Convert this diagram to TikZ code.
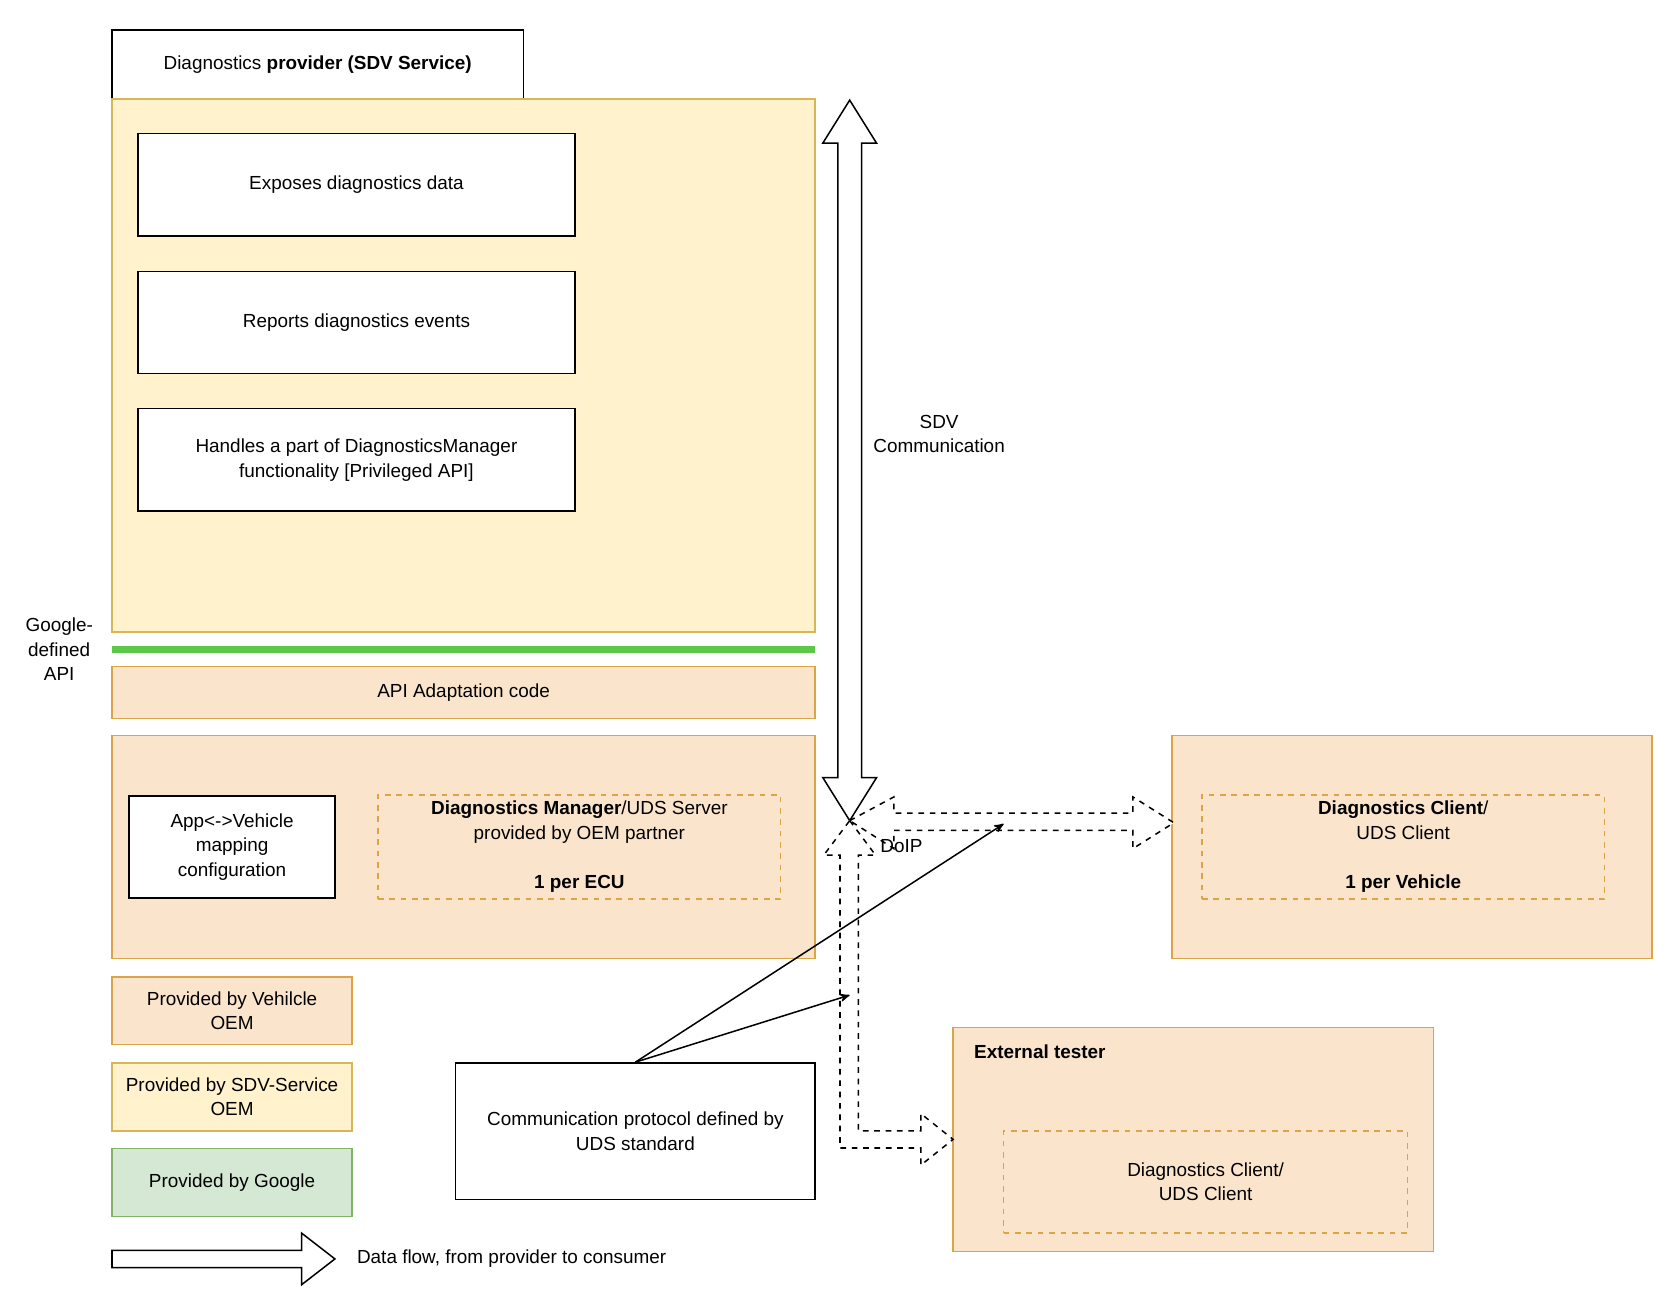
\documentclass[tikz,border=0pt]{standalone}
\usepackage{fontspec}
\setmainfont{Liberation Sans}
\usetikzlibrary{arrows}

\definecolor{sdvfill}{HTML}{FFF2CC}
\definecolor{sdvline}{HTML}{D6B656}
\definecolor{oemfill}{HTML}{FAE5CC}
\definecolor{oemline}{HTML}{DAA544}
\definecolor{gfill}{HTML}{D5E8D4}
\definecolor{gline}{HTML}{82B366}
\definecolor{apiline}{HTML}{5BC84A}

\tikzset{
  box/.style={draw=black,fill=white,thick,align=center,font=\fontsize{10}{13}\selectfont},
  sdvbox/.style={draw=sdvline,fill=sdvfill,thick,align=center,font=\fontsize{10}{13}\selectfont},
  oembox/.style={draw=oemline,fill=oemfill,thick,align=center,font=\fontsize{10}{13}\selectfont},
  oemdash/.style={draw=oemline,dashed,thick,align=center,font=\fontsize{10}{13}\selectfont},
  gbox/.style={draw=gline,fill=gfill,thick,align=center,font=\fontsize{10}{13}\selectfont},
  lbl/.style={align=center,font=\fontsize{10}{13}\selectfont},
  flow/.style={draw=black,fill=white,thick},
  dflow/.style={draw=black,fill=white,thick,dashed}
}

\begin{document}
\begin{tikzpicture}[x=0.02cm,y=-0.02cm,>=stealth',thick]
\useasboundingbox (0,0) rectangle (1560,1209);

% provider part
\node[box,minimum width=7.64cm,minimum height=1.28cm]   (title)  at (295,60)   {Diagnostics \textbf{provider (SDV Service)}};
\node[sdvbox,minimum width=13.06cm,minimum height=9.9cm] (sdv)   at (430.5,339.5) {};
\node[box,minimum width=8.12cm,minimum height=1.9cm]    (data)   at (331,171.5) {Exposes diagnostics data};
\node[box,minimum width=8.12cm,minimum height=1.9cm]    (events) at (331,299.5) {Reports diagnostics events};
\node[box,minimum width=8.12cm,minimum height=1.9cm]    (handles) at (331,427)  {Handles a part of DiagnosticsManager\\functionality [Privileged API]};

\coordinate (apiL) at (104,603);
\coordinate (apiR) at (757,603);
\draw[apiline,line width=4pt] (apiL) -- (apiR);
\node[lbl] (google) at (55,603) {Google-\\defined\\API};

% OEM part
\node[oembox,minimum width=13.06cm,minimum height=0.96cm] (adapt) at (430.5,643)   {API Adaptation code};
\node[oembox,minimum width=13.06cm,minimum height=4.14cm] (oem)   at (430.5,786.5) {};
\node[box,minimum width=3.82cm,minimum height=1.9cm]      (map)   at (215.5,786.5) {App<->Vehicle\\mapping\\configuration};
\node[oemdash,minimum width=7.48cm,minimum height=1.9cm]  (dm)    at (538,786.5)   {\textbf{Diagnostics Manager}/UDS Server\\provided by OEM partner\\[13pt]\textbf{1 per ECU}};

% clients
\node[oembox,minimum width=8.92cm,minimum height=4.14cm]  (vehicle) at (1311,786.5) {};
\node[oemdash,minimum width=7.48cm,minimum height=1.9cm]  (vclient) at (1303,786.5) {\textbf{Diagnostics Client}/\\UDS Client\\[13pt]\textbf{1 per Vehicle}};
\node[oembox,minimum width=8.92cm,minimum height=4.16cm]  (tester)  at (1108,1058)  {};
\node[lbl,anchor=west,font=\fontsize{10}{13}\selectfont\bfseries] (testerlbl) at (898,977) {External tester};
\node[oemdash,minimum width=7.5cm,minimum height=1.9cm]   (tclient) at (1119.5,1097.5) {Diagnostics Client/\\UDS Client};

% legend
\node[oembox,minimum width=4.46cm,minimum height=1.26cm] (leg1) at (215.5,938.5) {Provided by Vehilcle\\OEM};
\node[sdvbox,minimum width=4.46cm,minimum height=1.26cm] (leg2) at (215.5,1018.5) {Provided by SDV-Service\\OEM};
\node[gbox,minimum width=4.46cm,minimum height=1.26cm]   (leg3) at (215.5,1098) {Provided by Google};
\draw[flow] (104,1161) -- (280,1161) -- (280,1145) -- (311,1169) -- (280,1193) -- (280,1177) -- (104,1177) -- cycle;
\node[lbl,anchor=west] (leglbl) at (325,1169) {Data flow, from provider to consumer};

\node[box,minimum width=6.68cm,minimum height=2.54cm] (comm) at (590,1050.5) {Communication protocol defined by\\UDS standard};

% data flows
\draw[flow] (789,93) -- (814,133) -- (800,133) -- (800,722) -- (814,722) -- (789,762)
  -- (764,722) -- (778,722) -- (778,133) -- (764,133) -- cycle;
\node[lbl] (sdvcomm) at (872,403) {SDV\\Communication};
\draw[dflow] (789,762) -- (830,740) -- (830,755) -- (1052,755) -- (1052,740) -- (1090,764)
  -- (1052,788) -- (1052,771) -- (830,771) -- (830,788) -- cycle;
\draw[dflow] (789,762) -- (813,794) -- (797,794) -- (797,1050) -- (855,1050) -- (855,1034)
  -- (885,1058) -- (855,1082) -- (855,1066) -- (780,1066) -- (780,794) -- (765,794) -- cycle;
\node[lbl] (doip) at (837,786) {DoIP};

\coordinate (doipR) at (932,765);
\coordinate (doipD) at (789,924);
\path[->] (comm.north) edge (doipR)
          (comm.north) edge (doipD);
\end{tikzpicture}
\end{document}
